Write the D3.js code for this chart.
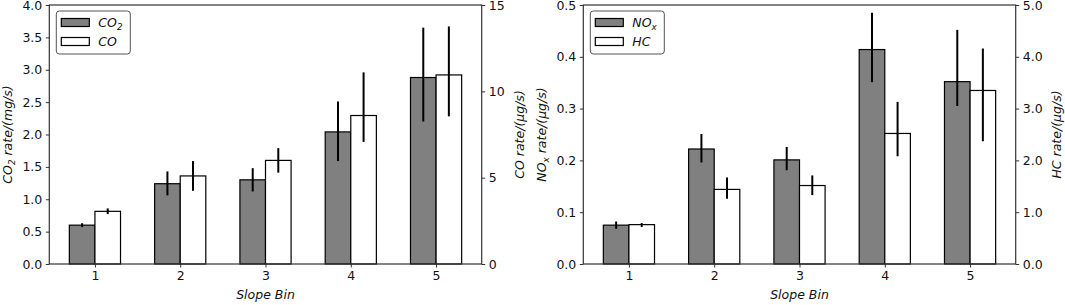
<!DOCTYPE html>
<html>
<head>
<meta charset="utf-8">
<script src="https://cdn.jsdelivr.net/npm/d3@7"></script>
<style>
  body { margin: 0; background: #fff; }
  svg text { font-family: "DejaVu Sans", sans-serif; fill: #111; }
</style>
</head>
<body>
<div id="chart"></div>
<script>
// data
const bins = [1, 2, 3, 4, 5];

const co2   = [0.60, 1.24, 1.30, 2.04, 2.88];
const co2Lo = [0.57, 1.06, 1.12, 1.59, 2.20];
const co2Hi = [0.63, 1.43, 1.48, 2.51, 3.65];

const co   = [3.05, 5.10, 6.00, 8.60, 10.95];
const coLo = [2.89, 4.24, 5.29, 7.07, 8.55];
const coHi = [3.22, 5.96, 6.71, 11.10, 13.76];

const nox   = [0.075, 0.222, 0.201, 0.414, 0.352];
const noxLo = [0.068, 0.196, 0.181, 0.351, 0.305];
const noxHi = [0.082, 0.251, 0.226, 0.485, 0.452];

const hc   = [0.76, 1.44, 1.515, 2.52, 3.35];
const hcLo = [0.715, 1.26, 1.33, 2.08, 2.37];
const hcHi = [0.79, 1.67, 1.71, 3.13, 4.16];

const leftTicks1  = [0, 0.5, 1, 1.5, 2, 2.5, 3, 3.5, 4];
const rightTicks1 = [0, 5, 10, 15];
const leftTicks2  = [0, 0.1, 0.2, 0.3, 0.4, 0.5];
const rightTicks2 = [0, 1, 2, 3, 4, 5];

const width = 1065, height = 305;
const yTop = 5, yBot = 264;
const barW = 0.3;
const fs = 12.5;
const spine = "#333";

const svg = d3.select("#chart").append("svg")
  .attr("width", width)
  .attr("height", height);

function panel(opt) {
  const g = svg.append("g");
  const x = d3.scaleLinear().domain([0.465, 5.535]).range([opt.x0, opt.x1]);
  const yL = d3.scaleLinear().domain([0, opt.maxL]).range([yBot, yTop]);
  const yR = d3.scaleLinear().domain([0, opt.maxR]).range([yBot, yTop]);

  // gray bars (left axis)
  g.selectAll(".barL").data(bins).join("rect")
    .attr("x", (d) => x(d - barW))
    .attr("y", (d, i) => yL(opt.vL[i]))
    .attr("width", x(barW) - x(0))
    .attr("height", (d, i) => yBot - yL(opt.vL[i]))
    .attr("fill", "#808080")
    .attr("stroke", "#000")
    .attr("stroke-width", 1.2);

  // white bars (right axis)
  g.selectAll(".barR").data(bins).join("rect")
    .attr("x", (d) => x(d))
    .attr("y", (d, i) => yR(opt.vR[i]))
    .attr("width", x(barW) - x(0))
    .attr("height", (d, i) => yBot - yR(opt.vR[i]))
    .attr("fill", "#fff")
    .attr("stroke", "#000")
    .attr("stroke-width", 1.2);

  // error bars
  g.selectAll(".errL").data(bins).join("line")
    .attr("x1", (d) => x(d - barW / 2)).attr("x2", (d) => x(d - barW / 2))
    .attr("y1", (d, i) => yL(opt.loL[i])).attr("y2", (d, i) => yL(opt.hiL[i]))
    .attr("stroke", "#000").attr("stroke-width", 2);
  g.selectAll(".errR").data(bins).join("line")
    .attr("x1", (d) => x(d + barW / 2)).attr("x2", (d) => x(d + barW / 2))
    .attr("y1", (d, i) => yR(opt.loR[i])).attr("y2", (d, i) => yR(opt.hiR[i]))
    .attr("stroke", "#000").attr("stroke-width", 2);

  // axes
  const ax = g.append("g").attr("transform", `translate(0,${yBot})`)
    .call(d3.axisBottom(x).tickValues(bins).tickFormat(d3.format("d")).tickSize(3.5).tickPadding(3.5));
  const ayL = g.append("g").attr("transform", `translate(${opt.x0},0)`)
    .call(d3.axisLeft(yL).tickValues(opt.ticksL).tickFormat(d3.format(".1f")).tickSize(3.5).tickPadding(3.5));
  const ayR = g.append("g").attr("transform", `translate(${opt.x1},0)`)
    .call(d3.axisRight(yR).tickValues(opt.ticksR).tickFormat(d3.format(opt.fmtR)).tickSize(3.5).tickPadding(3.5));
  [ax, ayL, ayR].forEach((a) => {
    a.select(".domain").remove();
    a.selectAll("line").attr("stroke", spine).attr("stroke-width", 1);
    a.selectAll("text").attr("font-size", fs).attr("fill", "#111")
      .style("font-family", "DejaVu Sans, sans-serif");
  });

  // frame
  g.append("rect")
    .attr("x", opt.x0).attr("y", yTop)
    .attr("width", opt.x1 - opt.x0).attr("height", yBot - yTop)
    .attr("fill", "none").attr("stroke", spine).attr("stroke-width", 1.2);

  // x label
  g.append("text")
    .attr("x", (opt.x0 + opt.x1) / 2).attr("y", 299)
    .attr("text-anchor", "middle").attr("font-size", fs).attr("font-style", "italic")
    .text("Slope Bin");

  // y labels
  const label = (xPos, parts) => {
    const t = g.append("text")
      .attr("transform", `translate(${xPos},${(yTop + yBot) / 2}) rotate(-90)`)
      .attr("text-anchor", "middle").attr("font-size", fs).attr("font-style", "italic");
    parts.forEach((p) => {
      const s = t.append("tspan").text(p.t);
      if (p.sub) s.attr("font-size", fs * 0.7).attr("dy", 3);
      if (p.after) s.attr("dy", -3);
    });
  };
  label(opt.labLx, opt.labL);
  label(opt.labRx, opt.labR);

  // legend
  const lg = g.append("g").attr("transform", `translate(${opt.x0 + 7},11)`);
  lg.append("rect").attr("width", 74).attr("height", 43).attr("rx", 3)
    .attr("fill", "#fff").attr("stroke", "#555").attr("stroke-width", 1);
  [["#808080", opt.legL], ["#fff", opt.legR]].forEach(([c, parts], i) => {
    lg.append("rect").attr("x", 5).attr("y", 7.5 + i * 19)
      .attr("width", 28).attr("height", 8)
      .attr("fill", c).attr("stroke", "#000").attr("stroke-width", 1.2);
    const t = lg.append("text").attr("x", 42).attr("y", 16 + i * 19)
      .attr("font-size", fs).attr("font-style", "italic");
    parts.forEach((p) => {
      const s = t.append("tspan").text(p.t);
      if (p.sub) s.attr("font-size", fs * 0.7).attr("dy", 3);
    });
  });
}

panel({
  x0: 49.3, x1: 481.7, maxL: 4, maxR: 15,
  vL: co2, loL: co2Lo, hiL: co2Hi,
  vR: co, loR: coLo, hiR: coHi,
  ticksL: leftTicks1, ticksR: rightTicks1, fmtR: "d",
  labLx: 12, labL: [{t: "CO"}, {t: "2", sub: true}, {t: " rate/(mg/s)", after: true}],
  labRx: 524, labR: [{t: "CO rate/(μg/s)"}],
  legL: [{t: "CO"}, {t: "2", sub: true}], legR: [{t: "CO"}]
});

panel({
  x0: 583.3, x1: 1015.7, maxL: 0.5, maxR: 5,
  vL: nox, loL: noxLo, hiL: noxHi,
  vR: hc, loR: hcLo, hiR: hcHi,
  ticksL: leftTicks2, ticksR: rightTicks2, fmtR: ".1f",
  labLx: 546, labL: [{t: "NO"}, {t: "x", sub: true}, {t: " rate/(μg/s)", after: true}],
  labRx: 1061, labR: [{t: "HC rate/(μg/s)"}],
  legL: [{t: "NO"}, {t: "x", sub: true}], legR: [{t: "HC"}]
});
</script>
</body>
</html>
